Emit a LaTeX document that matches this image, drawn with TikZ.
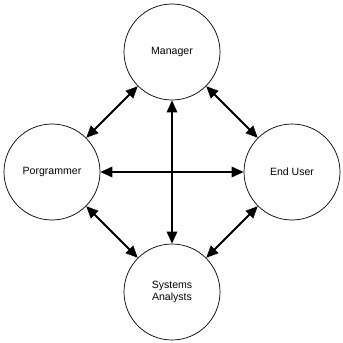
\documentclass[tikz,border=0pt]{standalone}
\usepackage{fontspec}
\setmainfont{Liberation Sans}
\usetikzlibrary{arrows.meta}
\tikzset{
  role/.style={draw,circle,minimum size=2.4cm,inner sep=0pt,line width=0.5pt,align=center,font=\fontsize{7.5}{8.6}\selectfont},
  arr/.style={{Triangle[length=3mm,width=2.6mm]}-{Triangle[length=3mm,width=2.6mm]},line width=1.4pt}
}
\begin{document}
\begin{tikzpicture}
  \useasboundingbox (0,0) rectangle (8.575,-8.575);
  \node[role] (mgr) at (4.3,-1.3) {Manager};
  \node[role] (prog) at (1.3,-4.3) {Porgrammer};
  \node[role] (user) at (7.3,-4.3) {End User};
  \node[role] (sa) at (4.3,-7.3) {Systems\\Analysts};

  \draw[arr] (mgr)--(prog);
  \draw[arr] (mgr)--(user);
  \draw[arr] (prog)--(sa);
  \draw[arr] (user)--(sa);
  \draw[arr] (mgr)--(sa);
  \draw[arr] (prog)--(user);
\end{tikzpicture}
\end{document}
